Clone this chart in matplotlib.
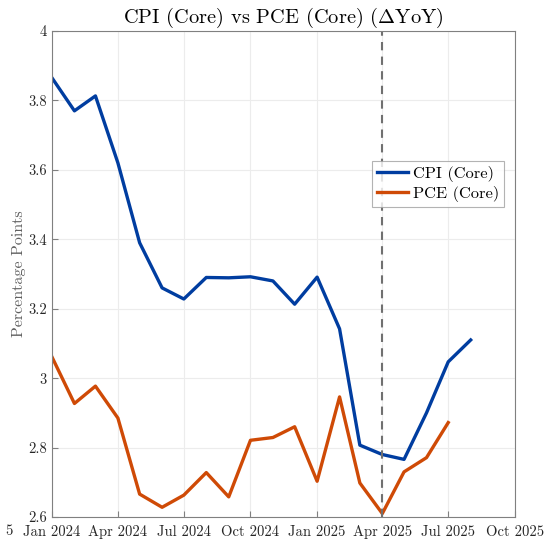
import numpy as np
import pandas as pd
import matplotlib
matplotlib.use("Agg")
import matplotlib.pyplot as plt
from matplotlib.ticker import FuncFormatter

plt.rcParams['font.family'] = ['cmr10', 'DejaVu Serif']
plt.rcParams['mathtext.fontset'] = 'cm'
plt.rcParams['axes.formatter.use_mathtext'] = True

# monthly YoY values
cpi_months = pd.date_range("2024-01-01", "2025-08-01", freq="MS")
cpi_core = [3.865, 3.77, 3.813, 3.62, 3.39, 3.26, 3.228, 3.29, 3.289, 3.292,
            3.28, 3.213, 3.291, 3.142, 2.807, 2.78, 2.766, 2.90, 3.047, 3.11]

pce_months = pd.date_range("2024-01-01", "2025-07-01", freq="MS")
pce_core = [3.061, 2.927, 2.977, 2.885, 2.666, 2.628, 2.663, 2.728, 2.658, 2.821,
            2.829, 2.86, 2.703, 2.946, 2.698, 2.61, 2.73, 2.771, 2.872]

marker_date = pd.Timestamp("2025-04-01")
tick_dates = pd.date_range("2024-01-01", "2025-10-01", freq="QS")
tick_labels = ["Jan 2024", "Apr 2024", "Jul 2024", "Oct 2024",
               "Jan 2025", "Apr 2025", "Jul 2025", "Oct 2025"]

fig = plt.figure(figsize=(5.46, 5.39), dpi=100)
ax = fig.add_axes([0.0952, 0.0408, 0.8478, 0.9017])

ax.plot(cpi_months, cpi_core, color='#003DA0', lw=2.4, label='CPI (Core)')
ax.plot(pce_months, pce_core, color='#CF4A06', lw=2.4, label='PCE (Core)')
ax.axvline(marker_date, color='#707070', lw=1.5, ls=(0, (4, 3)))

ax.set_xlim(pd.Timestamp("2024-01-01"), pd.Timestamp("2025-10-01"))
ax.set_ylim(2.6, 4.0)
ax.set_xticks(tick_dates)
ax.set_xticklabels(tick_labels)
ax.set_yticks(np.arange(2.6, 4.01, 0.2))
ax.yaxis.set_major_formatter(FuncFormatter(lambda v, p: '%g' % round(v, 1)))

ax.grid(True, color='#ececec', lw=0.8)
ax.set_axisbelow(True)
for s in ax.spines.values():
    s.set_color('#808080')
    s.set_linewidth(0.8)
ax.tick_params(direction='in', length=4, color='#808080', labelsize=10.5,
               labelcolor='#262626', top=False, right=False)
ax.tick_params(axis='x', pad=6)

ax.set_title(r'CPI (Core) vs PCE (Core) ($\Delta$YoY)', fontsize=14.7, pad=6)
ax.set_ylabel('Percentage Points', fontsize=11.5, color='#606060', labelpad=2)

leg = ax.legend(loc='upper left', bbox_to_anchor=(0.691, 0.733), fontsize=11.8,
                frameon=True, fancybox=False, edgecolor='#a0a0a0',
                handlelength=1.9, borderpad=0.3, labelspacing=0.25,
                handletextpad=0.3, borderaxespad=0.0)
leg.get_frame().set_linewidth(0.8)

fig.text(5 / 546, 1 - 531 / 539, '5', fontsize=10.5, color='#262626',
         ha='left', va='center')

fig.savefig('out.png', dpi=100)
